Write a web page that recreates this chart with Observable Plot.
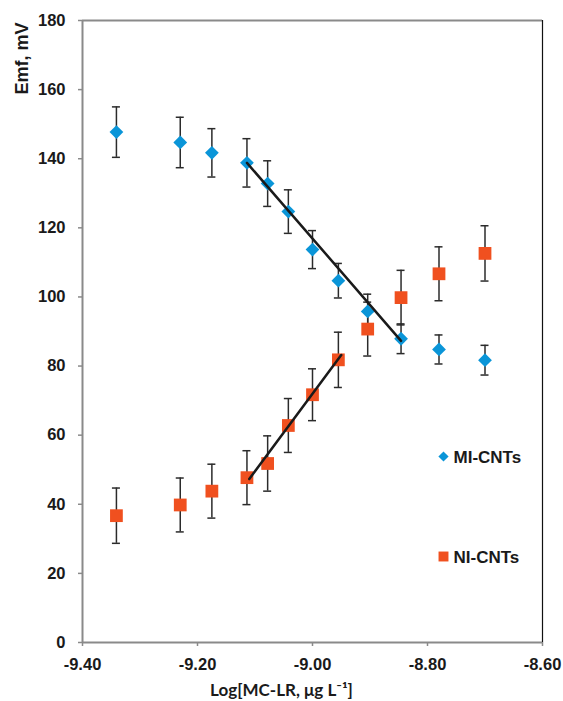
<!DOCTYPE html>
<html><head><meta charset="utf-8">
<script src="https://cdn.jsdelivr.net/npm/d3@7"></script>
<script src="https://cdn.jsdelivr.net/npm/@observablehq/plot@0.6"></script>
<style>html,body{margin:0;padding:0;background:#fff}</style>
</head><body><div id="chart"></div><script>
const logConc = [-9.341, -9.230, -9.175, -9.114, -9.078, -9.042, -9.000, -8.955, -8.904, -8.846, -8.780, -8.700];
const emfMI = [147.7, 144.7, 141.7, 138.8, 132.8, 124.7, 113.7, 104.7, 95.8, 87.9, 84.8, 81.7];
const errMI = [7.3, 7.3, 7.0, 7.0, 6.6, 6.3, 5.5, 5.0, 5.0, 4.3, 4.2, 4.3];
const emfNI = [36.7, 39.8, 43.8, 47.7, 51.8, 62.8, 71.7, 81.8, 90.7, 99.8, 106.7, 112.6];
const errNI = [8.0, 7.8, 7.8, 7.8, 8.0, 7.8, 7.5, 8.0, 7.8, 7.9, 7.8, 8.0];
const fitMIx = [-9.114, -8.846];
const fitMIy = [138.8, 87.3];
const fitNIx = [-9.110, -8.950];
const fitNIy = [47.3, 83.2];
const xTicks = [-9.4, -9.2, -9.0, -8.8, -8.6];
const yTicks = [0, 20, 40, 60, 80, 100, 120, 140, 160, 180];
const seriesNames = ["MI-CNTs", "NI-CNTs"];
const xTitle = "Log[MC-LR, μg L⁻¹]";
const yTitle = "Emf, mV";

const BLUE = "#0a95d8", ORANGE = "#f0501f", BAR = "#2b2b2b", AXIS = "#8a8a8a";

const mi = logConc.map((x, i) => ({x, y: emfMI[i], lo: emfMI[i] - errMI[i], hi: emfMI[i] + errMI[i]}));
const ni = logConc.map((x, i) => ({x, y: emfNI[i], lo: emfNI[i] - errNI[i], hi: emfNI[i] + errNI[i]}));
const lineMI = fitMIx.map((x, i) => ({x, y: fitMIy[i]}));
const lineNI = fitNIx.map((x, i) => ({x, y: fitNIy[i]}));

function errorMarks(data) {
  return [
    Plot.ruleX(data, {x: "x", y1: "lo", y2: "hi", stroke: BAR, strokeWidth: 1.5}),
    Plot.ruleY(data, {y: "hi", x1: "x", x2: "x", insetLeft: -4, insetRight: -4, stroke: BAR, strokeWidth: 1.5}),
    Plot.ruleY(data, {y: "lo", x1: "x", x2: "x", insetLeft: -4, insetRight: -4, stroke: BAR, strokeWidth: 1.5})
  ];
}

const chart = Plot.plot({
  width: 563,
  height: 701,
  marginLeft: 82,
  marginRight: 21,
  marginTop: 20,
  marginBottom: 59,
  style: {fontFamily: "'Liberation Sans', Arial, sans-serif", fontSize: "16px", fontWeight: "bold", color: "#1a1a1a", background: "#fff"},
  x: {domain: [-9.4, -8.6]},
  y: {domain: [0, 180]},
  marks: [
    Plot.axisX({ticks: xTicks, tickFormat: d => d.toFixed(2), tickSize: 4, tickPadding: 12, stroke: AXIS, strokeWidth: 1.5, label: null, fontSize: 16.5, fontWeight: "bold"}),
    Plot.axisY({ticks: yTicks, tickFormat: d => String(d), tickSize: 4, tickPadding: 13, stroke: AXIS, strokeWidth: 1.5, label: null, fontSize: 16.5, fontWeight: "bold"}),
    Plot.ruleY([180], {stroke: AXIS, strokeWidth: 2}),
    Plot.ruleX([-8.6], {stroke: "#111", strokeWidth: 1.2}),
    Plot.ruleX([-9.4], {stroke: AXIS, strokeWidth: 2}),
    Plot.ruleY([0], {stroke: AXIS, strokeWidth: 2}),
    ...errorMarks(mi),
    ...errorMarks(ni),
    Plot.dot(mi, {x: "x", y: "y", symbol: "diamond2", r: 6.2, fill: BLUE, stroke: "none"}),
    Plot.dot(ni, {x: "x", y: "y", symbol: "square", r: 7.2, fill: ORANGE, stroke: "none"}),
    Plot.line(lineMI, {x: "x", y: "y", stroke: "#1a1a1a", strokeWidth: 2.5}),
    Plot.line(lineNI, {x: "x", y: "y", stroke: "#1a1a1a", strokeWidth: 2.5}),
    // legend
    Plot.dot([seriesNames[0]], {frameAnchor: "top-left", dx: 361, dy: 436, symbol: "diamond2", r: 4.6, fill: BLUE}),
    Plot.text([seriesNames[0]], {frameAnchor: "top-left", dx: 371, dy: 437, text: d => d, textAnchor: "start", lineAnchor: "middle", fontSize: 17, fontWeight: "bold", fill: "#1a1a1a"}),
    Plot.dot([seriesNames[1]], {frameAnchor: "top-left", dx: 361, dy: 536, symbol: "square", r: 5.6, fill: ORANGE}),
    Plot.text([seriesNames[1]], {frameAnchor: "top-left", dx: 371, dy: 537, text: d => d, textAnchor: "start", lineAnchor: "middle", fontSize: 17, fontWeight: "bold", fill: "#1a1a1a"}),
    // axis titles
    Plot.text([yTitle], {frameAnchor: "top-left", dx: -60, dy: 38, rotate: -90, text: d => d, textAnchor: "middle", lineAnchor: "middle", fontSize: 18, fontWeight: "bold", fill: "#1a1a1a"}),
    Plot.text([xTitle], {frameAnchor: "bottom", dx: -31, dy: 48, text: d => d, textAnchor: "middle", lineAnchor: "middle", fontSize: 17, fontWeight: "bold", fontFamily: "Lato, 'Liberation Sans', sans-serif", fill: "#1a1a1a"})
  ]
});
document.getElementById("chart").appendChild(chart);
</script></body></html>
